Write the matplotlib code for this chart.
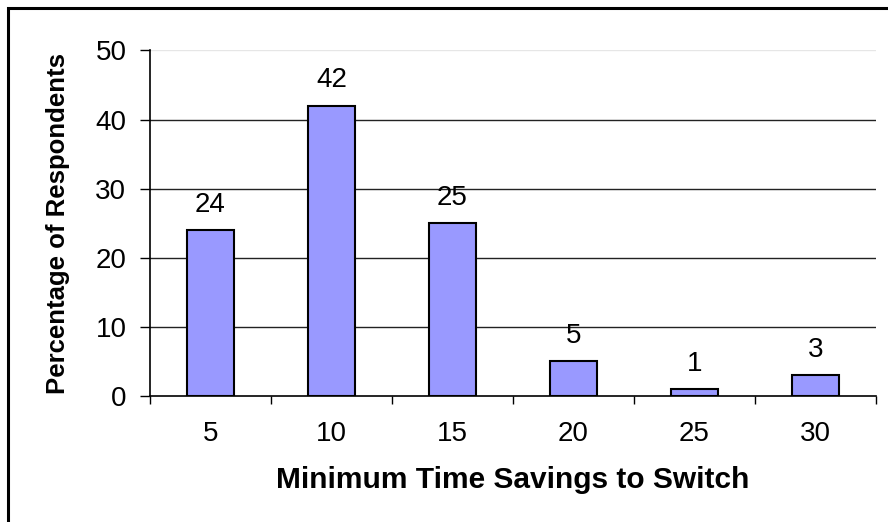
import numpy as np
import matplotlib
matplotlib.use('Agg')
import matplotlib.pyplot as plt
from matplotlib.patches import Rectangle

plt.rcParams['font.family'] = ['Liberation Sans', 'DejaVu Sans']

# data
categories = ['5', '10', '15', '20', '25', '30']
percentages = [24, 42, 25, 5, 1, 3]
y_ticks = [0, 10, 20, 30, 40, 50]

W, H, DPI = 888, 522, 100
fig = plt.figure(figsize=(W / DPI, H / DPI), dpi=DPI)

# frame round the chart (cut off on right and bottom edges)
fig.patches.append(Rectangle((8 / W, -0.05), 1.1, 1 - 8 / H + 0.05,
                             transform=fig.transFigure, fill=False,
                             edgecolor='black', linewidth=2.2))

ax = fig.add_axes([150 / W, 1 - 396 / H, (876 - 150) / W, (396 - 50.5) / H])

x = np.arange(len(categories))
bars = ax.bar(x, percentages, width=0.39, color='#9999FF',
              edgecolor='black', linewidth=1.5, zorder=3)

for xi, v in zip(x, percentages):
    ax.annotate(str(v), (xi, v), xytext=(0, 9), textcoords='offset points',
                ha='center', va='bottom', fontsize=20)

ax.set_xlim(-0.5, len(categories) - 0.5)
ax.set_ylim(0, 50)
ax.set_yticks(y_ticks)
ax.set_yticklabels([str(t) for t in y_ticks])
ax.set_xticks(x)
ax.set_xticklabels(categories)
ax.set_xticks(np.arange(-0.5, len(categories)), minor=True)

ax.tick_params(axis='x', which='major', length=0, pad=18, labelsize=20)
ax.tick_params(axis='x', which='minor', length=6, width=1, direction='out')
ax.tick_params(axis='y', length=7, width=1, direction='out', pad=10, labelsize=20)

# gridlines
for t in y_ticks[1:-1]:
    ax.axhline(t, color='#222222', linewidth=1, zorder=1)
ax.axhline(50, color='#e6e6e6', linewidth=1, zorder=1)

ax.spines['top'].set_visible(False)
ax.spines['right'].set_visible(False)
ax.spines['left'].set_linewidth(1.2)
ax.spines['bottom'].set_linewidth(1.2)

ax.set_xlabel('Minimum Time Savings to Switch', fontsize=21.5, fontweight='bold', labelpad=14)
ax.set_ylabel('Percentage of Respondents', fontsize=18.5, fontweight='bold', labelpad=18)

fig.savefig('out.png', dpi=DPI)
